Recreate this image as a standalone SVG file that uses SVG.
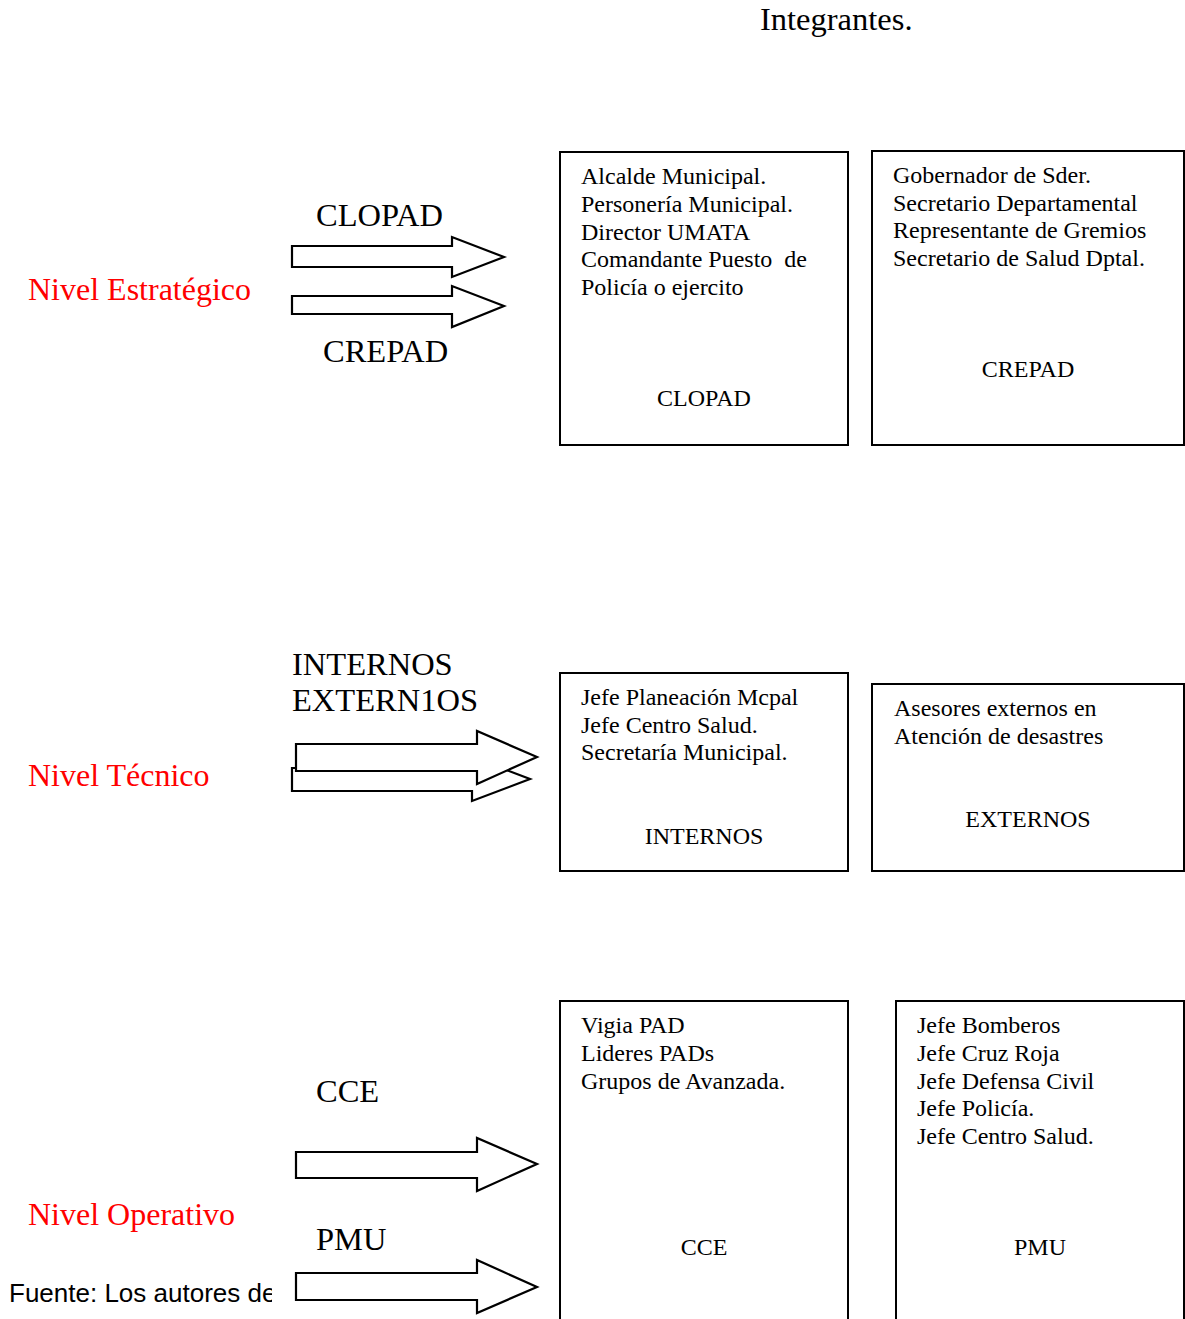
<svg xmlns="http://www.w3.org/2000/svg" width="1185" height="1319" viewBox="0 0 1185 1319">
<style>
.bx{fill:#fff;stroke:#000;stroke-width:2}
.ar{fill:#fff;stroke:#000;stroke-width:2.2;stroke-linejoin:miter}
.t{font-family:"Liberation Serif","Times New Roman",serif;font-size:24px;fill:#000}
.c{text-anchor:middle}
.big{font-family:"Liberation Serif","Times New Roman",serif;font-size:32.5px;fill:#000}
.red{font-family:"Liberation Serif","Times New Roman",serif;font-size:32px;fill:#ff0000}
.src{font-family:"Liberation Sans",Arial,sans-serif;font-size:26px;fill:#000}
</style>
<defs>
<clipPath id="clipF"><rect x="0" y="1270" width="272" height="49"/></clipPath>
</defs>
<rect width="1185" height="1319" fill="#fff"/>
<text class="big" x="760" y="30">Integrantes.</text>

<g id="level-estrategico"><text class="red" x="28" y="300">Nivel Estratégico</text></g>
<g id="level-tecnico"><text class="red" x="28" y="786">Nivel Técnico</text></g>
<g id="level-operativo"><text class="red" x="28" y="1225">Nivel Operativo</text></g>

<g id="connectors">
  <g id="arrow-clopad">
    <text class="big" x="316" y="226">CLOPAD</text>
    <polygon class="ar" points="292,246 452,246 452,237 504,257 452,277 452,267 292,267"/>
  </g>
  <g id="arrow-crepad">
    <polygon class="ar" points="292,296 452,296 452,286 504,306 452,327 452,314 292,314"/>
    <text class="big" x="323" y="362">CREPAD</text>
  </g>
  <g id="arrow-tecnico">
    <text class="big" x="292" y="675">INTERNOS</text>
    <text class="big" x="292" y="711">EXTERN1OS</text>
    <polygon class="ar" points="292,768 472,768 472,757 530,779 472,801 472,791 292,791"/>
    <polygon class="ar" points="296,744 477,744 477,731 537,757 477,784 477,771 296,771"/>
  </g>
  <g id="arrow-cce">
    <text class="big" x="316" y="1102">CCE</text>
    <polygon class="ar" points="296,1152 477,1152 477,1138 537,1164 477,1191 477,1178 296,1178"/>
  </g>
  <g id="arrow-pmu">
    <text class="big" x="316" y="1250">PMU</text>
    <polygon class="ar" points="296,1273 477,1273 477,1260 537,1287 477,1313 477,1300 296,1300"/>
  </g>
</g>

<g id="box-clopad">
  <rect class="bx" x="560" y="152" width="288" height="293"/>
  <text class="t" x="581" y="184">Alcalde Municipal.</text>
  <text class="t" x="581" y="212">Personería Municipal.</text>
  <text class="t" x="581" y="240">Director UMATA</text>
  <text class="t" x="581" y="267" xml:space="preserve">Comandante Puesto  de</text>
  <text class="t" x="581" y="295">Policía o ejercito</text>
  <text class="t c" x="704" y="406">CLOPAD</text>
</g>
<g id="box-crepad">
  <rect class="bx" x="872" y="151" width="312" height="294"/>
  <text class="t" x="893" y="183">Gobernador de Sder.</text>
  <text class="t" x="893" y="211">Secretario Departamental</text>
  <text class="t" x="893" y="238">Representante de Gremios</text>
  <text class="t" x="893" y="266">Secretario de Salud Dptal.</text>
  <text class="t c" x="1028" y="377">CREPAD</text>
</g>
<g id="box-internos">
  <rect class="bx" x="560" y="673" width="288" height="198"/>
  <text class="t" x="581" y="705">Jefe Planeación Mcpal</text>
  <text class="t" x="581" y="733">Jefe Centro Salud.</text>
  <text class="t" x="581" y="760">Secretaría Municipal.</text>
  <text class="t c" x="704" y="844">INTERNOS</text>
</g>
<g id="box-externos">
  <rect class="bx" x="872" y="684" width="312" height="187"/>
  <text class="t" x="894" y="716">Asesores externos en</text>
  <text class="t" x="894" y="744">Atención de desastres</text>
  <text class="t c" x="1028" y="827">EXTERNOS</text>
</g>
<g id="box-cce">
  <rect class="bx" x="560" y="1001" width="288" height="330"/>
  <text class="t" x="581" y="1033">Vigia PAD</text>
  <text class="t" x="581" y="1061">Lideres PADs</text>
  <text class="t" x="581" y="1089">Grupos de Avanzada.</text>
  <text class="t c" x="704" y="1255">CCE</text>
</g>
<g id="box-pmu">
  <rect class="bx" x="896" y="1001" width="288" height="330"/>
  <text class="t" x="917" y="1033">Jefe Bomberos</text>
  <text class="t" x="917" y="1061">Jefe Cruz Roja</text>
  <text class="t" x="917" y="1089">Jefe Defensa Civil</text>
  <text class="t" x="917" y="1116">Jefe Policía.</text>
  <text class="t" x="917" y="1144">Jefe Centro Salud.</text>
  <text class="t c" x="1040" y="1255">PMU</text>
</g>

<g id="source">
  <text class="src" x="9" y="1302" clip-path="url(#clipF)">Fuente: Los autores de</text>
</g>
</svg>
